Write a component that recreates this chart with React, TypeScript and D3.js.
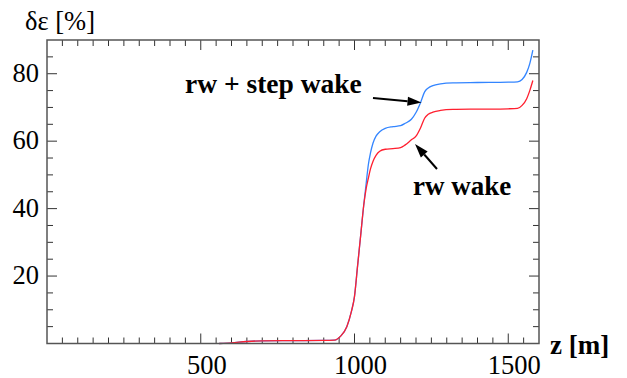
import React, { useEffect, useRef } from "react";
import * as d3 from "d3";

// z positions [m]
const zValues = [
  560, 600, 650, 700, 800, 900, 935, 955, 975, 990, 1000, 1010, 1020, 1030,
  1038, 1045, 1052, 1060, 1070, 1082, 1100, 1125, 1150, 1165, 1185, 1200,
  1215, 1228, 1240, 1255, 1280, 1320, 1400, 1500, 1530, 1545, 1560, 1570,
  1580,
];

// rw + step wake [%]
const stepWake = [
  0, 0.2, 0.6, 0.8, 0.85, 0.9, 1.0, 2.2, 5, 9.5, 14, 23, 32, 41, 47.5, 53,
  56.5, 59.4, 61.5, 62.8, 63.8, 64.3, 64.6, 65.3, 66.5, 68.5, 71.5, 74.6,
  75.8, 76.5, 77.0, 77.3, 77.4, 77.5, 77.6, 78.3, 80.4, 83, 87,
];

// rw wake [%]
const rwWake = [
  0, 0.2, 0.6, 0.8, 0.85, 0.9, 1.0, 2.2, 5, 9.5, 14, 23, 32, 41, 46, 49,
  51.8, 54, 55.8, 57, 57.6, 57.8, 58.1, 58.9, 60.4, 61.5, 64, 66.8, 68,
  68.6, 69.1, 69.4, 69.5, 69.6, 69.7, 70.6, 72.6, 75, 78,
];

const xTickLabels = [500, 1000, 1500];
const yTickLabels = [20, 40, 60, 80];

const W = 627;
const H = 378;

export default function App() {
  const svgRef = useRef<SVGSVGElement>(null);

  useEffect(() => {
    if (!svgRef.current) return;
    const svg = d3.select(svgRef.current);
    svg.selectAll("*").remove();

    const left = 47;
    const right = 539;
    const top = 40;
    const bottom = 343.5;

    const x = d3.scaleLinear().domain([0, 1600]).range([left, right]);
    const y = d3.scaleLinear().domain([0, 90]).range([bottom, top]);

    const frameColor = "#555";
    const tickColor = "#333";
    const serif =
      '"Liberation Serif", Tinos, "Times New Roman", Times, "DejaVu Serif", "Noto Serif", serif';

    // ticks (all four sides, pointing inward)
    const ticks = svg.append("g").attr("stroke", tickColor).attr("stroke-width", 1);
    d3.range(50, 1600, 50).forEach((v) => {
      const len = v % 500 === 0 ? 10 : 6;
      ticks.append("line").attr("x1", x(v)).attr("x2", x(v)).attr("y1", bottom).attr("y2", bottom - len);
      ticks.append("line").attr("x1", x(v)).attr("x2", x(v)).attr("y1", top).attr("y2", top + len);
    });
    d3.range(5, 90, 5).forEach((v) => {
      const len = v % 20 === 0 ? 10 : 6;
      ticks.append("line").attr("x1", left).attr("x2", left + len).attr("y1", y(v)).attr("y2", y(v));
      ticks.append("line").attr("x1", right).attr("x2", right - len).attr("y1", y(v)).attr("y2", y(v));
    });

    // curves
    const line = d3
      .line<number>()
      .x((_, i) => x(zValues[i]))
      .y((d) => y(d))
      .curve(d3.curveMonotoneX);

    svg
      .append("path")
      .datum(stepWake)
      .attr("d", line)
      .attr("fill", "none")
      .attr("stroke", "#3385ff")
      .attr("stroke-width", 1.3);

    svg
      .append("path")
      .datum(rwWake)
      .attr("d", line)
      .attr("fill", "none")
      .attr("stroke", "#ff1f2f")
      .attr("stroke-width", 1.3);

    // frame
    svg
      .append("rect")
      .attr("x", left)
      .attr("y", top)
      .attr("width", right - left)
      .attr("height", bottom - top)
      .attr("fill", "none")
      .attr("stroke", frameColor)
      .attr("stroke-width", 1.5);

    const txt = svg.append("g").attr("font-family", serif).attr("fill", "#000");

    // tick labels
    txt
      .append("g")
      .selectAll("text")
      .data(xTickLabels)
      .enter()
      .append("text")
      .attr("x", (d) => x(d) + 6)
      .attr("y", bottom + 30)
      .attr("text-anchor", "middle")
      .attr("font-size", 26.5)
      .text((d) => d);

    txt
      .append("g")
      .selectAll("text")
      .data(yTickLabels)
      .enter()
      .append("text")
      .attr("x", left - 8)
      .attr("y", (d) => y(d) + 8)
      .attr("text-anchor", "end")
      .attr("font-size", 26.5)
      .text((d) => d);

    // axis titles
    txt
      .append("text")
      .attr("x", 25)
      .attr("y", 30)
      .attr("font-size", 26.5)
      .text("δε [%]");

    txt
      .append("text")
      .attr("x", 550)
      .attr("y", 354)
      .attr("font-size", 27)
      .attr("font-weight", "bold")
      .text("z [m]");

    // annotations
    txt
      .append("text")
      .attr("x", 185)
      .attr("y", 93)
      .attr("font-size", 27.5)
      .attr("font-weight", "bold")
      .text("rw + step wake");

    txt
      .append("text")
      .attr("x", 413)
      .attr("y", 195)
      .attr("font-size", 27)
      .attr("font-weight", "bold")
      .text("rw wake");

    const arrow = (x1: number, y1: number, x2: number, y2: number) => {
      const ang = Math.atan2(y2 - y1, x2 - x1);
      const hl = 14;
      const hw = 4.5;
      const bx = x2 - hl * Math.cos(ang);
      const by = y2 - hl * Math.sin(ang);
      svg
        .append("line")
        .attr("x1", x1)
        .attr("y1", y1)
        .attr("x2", bx)
        .attr("y2", by)
        .attr("stroke", "#000")
        .attr("stroke-width", 2);
      const px = -Math.sin(ang) * hw;
      const py = Math.cos(ang) * hw;
      svg
        .append("path")
        .attr("d", `M${x2},${y2}L${bx + px},${by + py}L${bx - px},${by - py}Z`)
        .attr("fill", "#000");
    };
    arrow(373, 98, 421.5, 102.5);
    arrow(437, 169, 415, 144);
  }, []);

  return (
    <svg
      ref={svgRef}
      width={W}
      height={H}
      style={{ position: "absolute", left: 0, top: 0, background: "#fff" }}
    />
  );
}
